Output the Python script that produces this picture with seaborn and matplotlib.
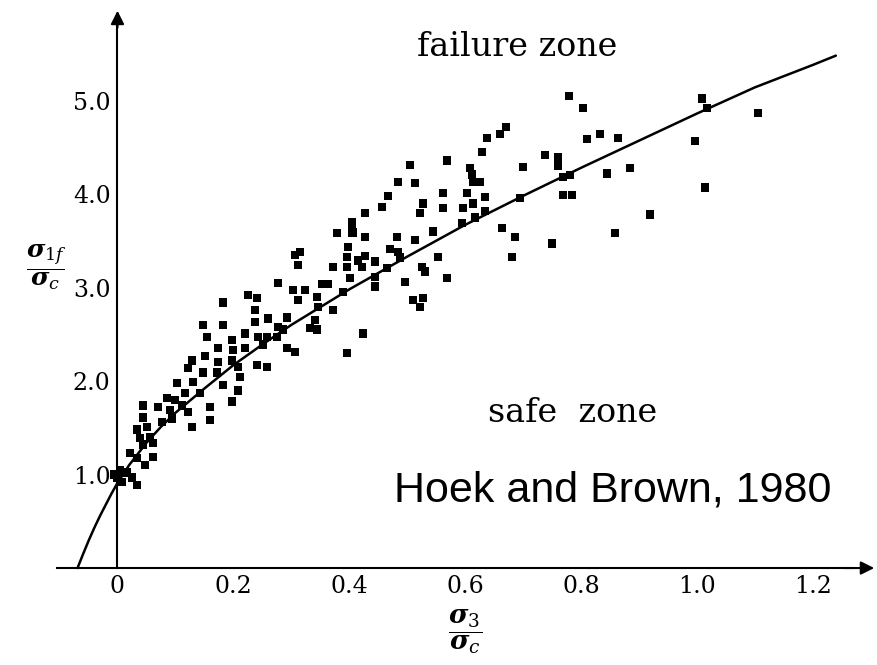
import numpy as np
import pandas as pd
import seaborn as sns
from matplotlib import pyplot as plt

# test points, sigma3/sigma_c and sigma1f/sigma_c
sigma3_ratio = [
    0.085, 0.044, 0.070, 0.091, 0.099, 0.111, 0.122, 0.198, 0.160, 0.160, 0.094, 0.077, 0.129, 0.044, 0.034,
    0.051, 0.039, 0.056, 0.044, 0.061, 0.022, 0.034, 0.061, 0.047, 0.004, 0.016, 0.025, 0.000, 0.008, 0.034, -0.005,
    0.379, 0.405, 0.398, 0.315, 0.306, 0.396, 0.312, 0.372, 0.396, 0.401, 0.277, 0.353, 0.363, 0.303, 0.324,
    0.389, 0.225, 0.241, 0.182, 0.312, 0.344, 0.237, 0.346, 0.372, 0.260, 0.293, 0.148, 0.182, 0.237, 0.277,
    0.286, 0.341, 0.332, 0.344, 0.220, 0.243, 0.258, 0.275, 0.155, 0.198, 0.251, 0.293, 0.306, 0.173, 0.199,
    0.220, 0.396, 0.129, 0.151, 0.173, 0.198, 0.241, 0.258, 0.208, 0.122, 0.148, 0.172, 0.211, 0.103, 0.130,
    0.182, 0.117, 0.142, 0.208,
    0.484, 0.514, 0.467, 0.562, 0.603, 0.614, 0.457, 0.527, 0.562, 0.596, 0.614, 0.427, 0.522, 0.617, 0.595,
    0.405, 0.405, 0.407, 0.545, 0.427, 0.482, 0.514, 0.470, 0.484, 0.488, 0.427, 0.415, 0.445, 0.553, 0.422,
    0.465, 0.526, 0.531, 0.445, 0.569, 0.496, 0.445, 0.510, 0.527, 0.522, 0.424,
    0.638, 0.660, 0.629, 0.569, 0.738, 0.760, 0.760, 0.700, 0.608, 0.612, 0.626, 0.845, 0.769, 0.781, 0.634,
    0.695, 0.769, 0.785, 0.634, 0.664, 0.686, 0.750, 0.681,
    1.009, 1.018, 1.106, 0.804, 0.833, 0.810, 0.864, 0.997, 0.885, 1.014, 0.919, 0.859,
    0.779, 0.671, 0.505,
]
sigma1_ratio = [
    1.82, 1.74, 1.72, 1.69, 1.80, 1.74, 1.67, 1.78, 1.72, 1.58, 1.60, 1.56, 1.51, 1.61, 1.48,
    1.51, 1.39, 1.40, 1.32, 1.34, 1.23, 1.18, 1.19, 1.10, 1.05, 1.02, 0.97, 0.97, 0.92, 0.89, 1.00,
    3.58, 3.58, 3.43, 3.38, 3.35, 3.33, 3.24, 3.22, 3.22, 3.10, 3.05, 3.04, 3.04, 2.97, 2.97,
    2.95, 2.92, 2.89, 2.84, 2.87, 2.90, 2.76, 2.79, 2.76, 2.67, 2.68, 2.60, 2.60, 2.63, 2.58,
    2.55, 2.65, 2.57, 2.55, 2.51, 2.47, 2.47, 2.47, 2.47, 2.44, 2.39, 2.35, 2.31, 2.35, 2.33,
    2.35, 2.30, 2.22, 2.27, 2.20, 2.22, 2.17, 2.15, 2.15, 2.14, 2.09, 2.09, 2.04, 1.98, 1.99,
    1.96, 1.87, 1.87, 1.90,
    4.13, 4.12, 3.98, 4.01, 4.01, 4.13, 3.86, 3.90, 3.85, 3.85, 3.90, 3.80, 3.80, 3.75, 3.69,
    3.70, 3.65, 3.59, 3.60, 3.54, 3.54, 3.51, 3.41, 3.38, 3.32, 3.34, 3.29, 3.28, 3.33, 3.22,
    3.21, 3.22, 3.17, 3.11, 3.10, 3.06, 3.01, 2.87, 2.89, 2.79, 2.51,
    4.60, 4.64, 4.45, 4.36, 4.42, 4.39, 4.30, 4.29, 4.28, 4.21, 4.13, 4.22, 4.18, 4.20, 3.97,
    3.96, 3.99, 3.99, 3.82, 3.64, 3.54, 3.47, 3.33,
    5.02, 4.92, 4.87, 4.92, 4.64, 4.59, 4.60, 4.57, 4.28, 4.07, 3.78, 3.58,
    5.05, 4.72, 4.31,
]

# failure envelope as drawn
curve_s3 = [-0.069, -0.06, -0.05, -0.04, -0.03, -0.02, -0.01, 0.0, 0.02, 0.05, 0.075, 0.1, 0.15, 0.2,
            0.25, 0.3, 0.35, 0.4, 0.5, 0.6, 0.7, 0.8, 0.9, 1.0, 1.1, 1.2, 1.24]
curve_s1 = [0.0, 0.14, 0.29, 0.43, 0.56, 0.68, 0.80, 0.91, 1.10, 1.34, 1.51, 1.66, 1.92, 2.17,
            2.39, 2.60, 2.79, 2.98, 3.33, 3.67, 3.98, 4.28, 4.57, 4.86, 5.14, 5.38, 5.48]

x_ticks = [0, 0.2, 0.4, 0.6, 0.8, 1.0, 1.2]
x_tick_labels = ['0', '0.2', '0.4', '0.6', '0.8', '1.0', '1.2']
y_ticks = [1, 2, 3, 4, 5]
y_tick_labels = ['1.0', '2.0', '3.0', '4.0', '5.0']

sns.set_style('white')
plt.rcParams['font.family'] = ['DejaVu Serif']
plt.rcParams['mathtext.fontset'] = 'dejavuserif'
plt.rcParams['text.color'] = 'black'

fig = plt.figure(figsize=(8.77, 6.65), dpi=100)
ax = fig.add_axes([0, 0, 1, 1])

pts = pd.DataFrame({'s3': sigma3_ratio, 's1': sigma1_ratio})
crv = pd.DataFrame({'s3': curve_s3, 's1': curve_s1})
sns.lineplot(data=crv, x='s3', y='s1', sort=False, estimator=None, color='black', lw=1.8, ax=ax)
sns.scatterplot(data=pts, x='s3', y='s1', marker='s', s=36, color='black', edgecolor='none',
                ax=ax, zorder=3)

ax.set_xlim(-0.2028, 1.311)
ax.set_ylim(-1.037, 6.075)
ax.set_xlabel('')
ax.set_ylabel('')

ax.spines[['top', 'right']].set_visible(False)
ax.spines['left'].set_position(('data', 0))
ax.spines['bottom'].set_position(('data', 0))
ax.spines['left'].set_bounds(0, 5.85)
ax.spines['bottom'].set_bounds(-0.104, 1.27)
ax.spines[['left', 'bottom']].set_linewidth(1.5)
ax.spines[['left', 'bottom']].set_color('black')

ax.set_xticks(x_ticks, x_tick_labels)
ax.set_yticks(y_ticks, y_tick_labels)
ax.tick_params(axis='both', direction='in', labelsize=17, width=1, color='black', labelcolor='black')
ax.tick_params(axis='y', length=10, pad=5)
ax.tick_params(axis='x', length=6, pad=5)

arrow = dict(arrowstyle='-|>', color='black', lw=1.5, mutation_scale=20)
ax.annotate('', xy=(1.311, 0), xytext=(1.25, 0), arrowprops=arrow, annotation_clip=False)
ax.annotate('', xy=(0, 5.99), xytext=(0, 5.75), arrowprops=arrow, annotation_clip=False)

ax.text(0.69, 5.57, 'failure zone', ha='center', va='center', fontsize=24, color='black')
ax.text(0.785, 1.66, 'safe  zone', ha='center', va='center', fontsize=24, color='black')
ax.text(0.854, 0.834, 'Hoek and Brown, 1980', ha='center', va='center', fontsize=31,
        family='Liberation Sans', color='black')
ax.text(-0.122, 3.22, r'$\dfrac{\boldsymbol{\sigma}_{1f}}{\boldsymbol{\sigma}_{c}}$',
        ha='center', va='center', fontsize=18, color='black')
ax.text(0.60, -0.684, r'$\dfrac{\boldsymbol{\sigma}_{3}}{\boldsymbol{\sigma}_{c}}$',
        ha='center', va='center', fontsize=19, color='black')

fig.savefig('out.png', dpi=100)
